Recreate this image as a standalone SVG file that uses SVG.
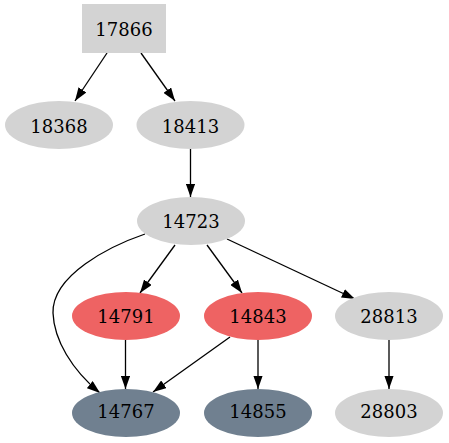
<svg xmlns="http://www.w3.org/2000/svg" width="449" height="443" viewBox="0 0 449 443">
<defs>
<marker id="ah" viewBox="0 0 10 7" refX="10" refY="3.5" markerWidth="13.3" markerHeight="9.3" markerUnits="userSpaceOnUse" orient="auto">
<path d="M0,0 L10,3.5 L0,7 Z" fill="#000"/>
</marker>
</defs>
<style>
text{font-family:"DejaVu Serif",serif;font-size:18px;text-anchor:middle;dominant-baseline:central;fill:#000}
.g{fill:#d3d3d3}
.r{fill:#ee6363}
.s{fill:#708090}
#edges path{fill:none;stroke:#000;stroke-width:1.3;marker-end:url(#ah)}
</style>
<rect width="449" height="443" fill="#fff"/>
<g id="edges">
<path d="M107,53 L75,101"/>
<path d="M141,53 L175,101"/>
<path d="M190.5,149 L190.5,197"/>
<path d="M175,245 L140,293"/>
<path d="M207,245 L242,293"/>
<path d="M227,239 L355,299"/>
<path d="M145,234 C110,246 52,275 53,313 C54,340 72,370 100,393"/>
<path d="M125.5,340 L125.5,389"/>
<path d="M230,337 L153,392"/>
<path d="M258,340 L258,389"/>
<path d="M389,340 L389,389"/>
</g>
<g id="n17866"><rect class="g" x="82" y="4" width="84" height="49"/><text x="124" y="29">17866</text></g>
<g id="n18368"><ellipse class="g" cx="59" cy="125" rx="54" ry="24"/><text x="59" y="126">18368</text></g>
<g id="n18413"><ellipse class="g" cx="190.5" cy="125" rx="54" ry="24"/><text x="190.5" y="126">18413</text></g>
<g id="n14723"><ellipse class="g" cx="191" cy="221" rx="54" ry="24"/><text x="191" y="221">14723</text></g>
<g id="n14791"><ellipse class="r" cx="126" cy="316" rx="54" ry="24"/><text x="126" y="316">14791</text></g>
<g id="n14843"><ellipse class="r" cx="258" cy="316" rx="54" ry="24"/><text x="258" y="316">14843</text></g>
<g id="n28813"><ellipse class="g" cx="389" cy="316" rx="54" ry="24"/><text x="389" y="316">28813</text></g>
<g id="n14767"><ellipse class="s" cx="126" cy="413" rx="54" ry="24"/><text x="126" y="411">14767</text></g>
<g id="n14855"><ellipse class="s" cx="258" cy="413" rx="54" ry="24"/><text x="258" y="411">14855</text></g>
<g id="n28803"><ellipse class="g" cx="389" cy="413" rx="54" ry="24"/><text x="389" y="411">28803</text></g>
</svg>
